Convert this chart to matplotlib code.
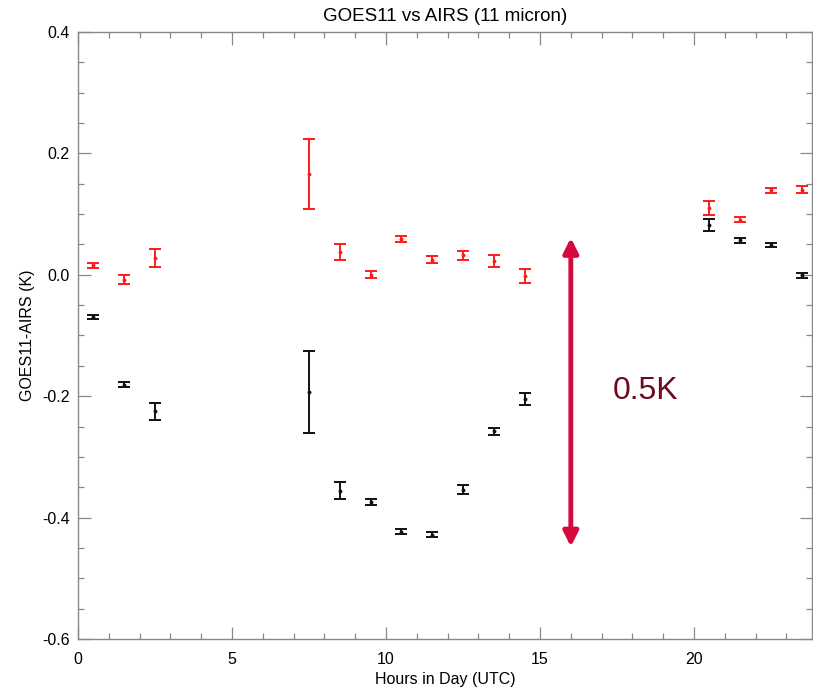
import matplotlib
matplotlib.use("Agg")
import matplotlib.pyplot as plt
from matplotlib.ticker import MultipleLocator

hours = [0.5, 1.5, 2.5, 7.5, 8.5, 9.5, 10.5, 11.5, 12.5, 13.5, 14.5, 20.5, 21.5, 22.5, 23.5]
red_vals = [0.016, -0.008, 0.028, 0.166, 0.037, 0.0, 0.059, 0.025, 0.032, 0.023, -0.002, 0.110, 0.091, 0.139, 0.140]
red_err = [0.004, 0.007, 0.015, 0.057, 0.013, 0.006, 0.005, 0.006, 0.0074, 0.0096, 0.012, 0.011, 0.004, 0.004, 0.006]
black_vals = [-0.070, -0.181, -0.225, -0.193, -0.356, -0.374, -0.423, -0.428, -0.354, -0.258, -0.205, 0.082, 0.057, 0.049, -0.001]
black_err = [0.003, 0.004, 0.014, 0.067, 0.014, 0.005, 0.004, 0.004, 0.0074, 0.006, 0.010, 0.010, 0.004, 0.004, 0.004]

title = "GOES11 vs AIRS (11 micron)"
xlabel = "Hours in Day (UTC)"
ylabel = "GOES11-AIRS (K)"
annot = "0.5K"
arrow_x = 16.0
arrow_top = 0.061
arrow_bottom = -0.448

plt.rcParams['font.family'] = ['Liberation Sans', 'DejaVu Sans']

fig = plt.figure(figsize=(8.13, 6.89), dpi=100)
ax = fig.add_axes([78/813, 1-639/689, (812-78)/813, (639-32)/689])

ax.errorbar(hours, red_vals, yerr=red_err, fmt='o', color='#ff1a1a', ecolor='#ff1a1a',
            markersize=1.8, elinewidth=1.4, capsize=4, capthick=1.4)
ax.errorbar(hours, black_vals, yerr=black_err, fmt='o', color='#111111', ecolor='#111111',
            markersize=1.8, elinewidth=1.4, capsize=4, capthick=1.4)

ax.annotate('', xy=(arrow_x, arrow_top), xytext=(arrow_x, arrow_bottom),
            arrowprops=dict(arrowstyle='<|-|>', color='#d40a3c', lw=3.5,
                            mutation_scale=22, shrinkA=0, shrinkB=0))
ax.text(17.35, -0.192, annot, fontsize=23, color='#6e0a1e', va='center', ha='left')

ax.set_xlim(0, 23.83)
ax.set_ylim(-0.6, 0.4)
ax.xaxis.set_major_locator(MultipleLocator(5))
ax.xaxis.set_minor_locator(MultipleLocator(1))
ax.yaxis.set_minor_locator(MultipleLocator(0.05))
ax.set_yticks([-0.6, -0.4, -0.2, 0.0, 0.2, 0.4])
ax.set_yticklabels(['-0.6', '-0.4', '-0.2', '0.0', '0.2', '0.4'])

for s in ax.spines.values():
    s.set_color('#888888')
    s.set_linewidth(1.0)
ax.tick_params(which='both', direction='in', top=True, right=True, color='#888888', width=0.9,
               labelsize=11.5, labelcolor='black')
ax.tick_params(which='major', length=9)
ax.tick_params(which='minor', length=4.5)
ax.tick_params(axis='x', which='major', pad=9)
ax.tick_params(axis='y', which='major', pad=6)

ax.set_title(title, fontsize=13.5, pad=8)
ax.set_xlabel(xlabel, fontsize=11.5, labelpad=4)
ax.set_ylabel(ylabel, fontsize=11.5, labelpad=5)

fig.savefig('out.png', dpi=100)
